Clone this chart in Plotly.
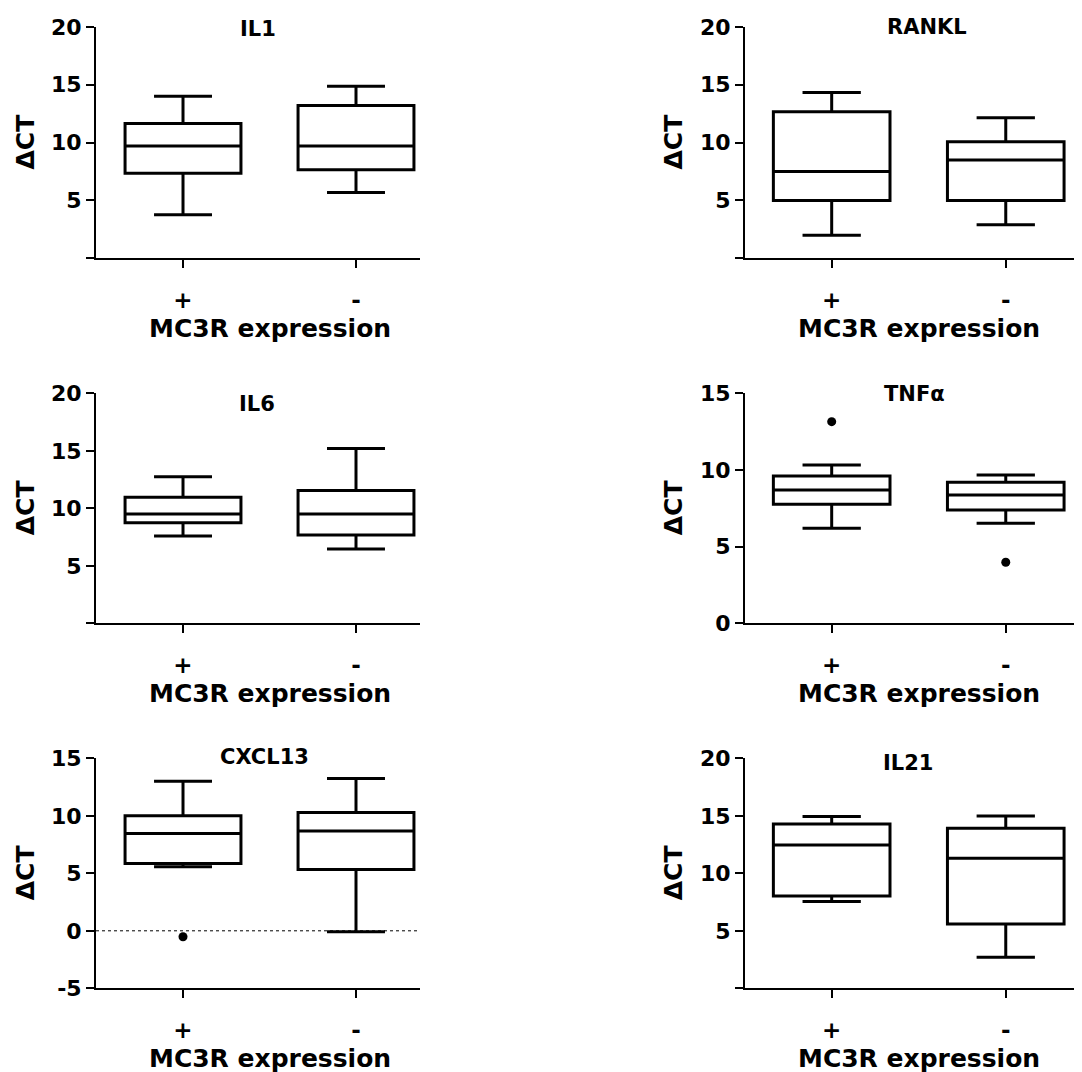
import plotly.graph_objects as go

# ---------------- data ----------------
genes = ["IL1", "RANKL", "IL6", "TNFα", "CXCL13", "IL21"]
groups = ["+", "-"]
group_pos = [0, 1]

whisker_low = [[3.74, 5.67], [1.96, 2.88], [7.59, 6.46], [6.20, 6.52], [5.57, -0.09], [7.54, 2.70]]
q1 = [[7.34, 7.63], [4.98, 4.98], [8.75, 7.68], [7.76, 7.39], [5.86, 5.33], [8.03, 5.59]]
median = [[9.70, 9.70], [7.48, 8.49], [9.51, 9.51], [8.70, 8.37], [8.46, 8.67], [12.46, 11.30]]
q3 = [[11.65, 13.20], [12.66, 10.07], [10.96, 11.54], [9.61, 9.20], [10.00, 10.29], [14.29, 13.91]]
whisker_high = [[14.00, 14.88], [14.33, 12.14], [12.75, 15.19], [10.33, 9.67], [13.01, 13.25], [14.93, 14.99]]

outlier_gene = ["TNFα", "TNFα", "CXCL13"]
outlier_group = ["+", "-", "+"]
outlier_value = [13.15, 3.98, -0.52]

y_min = [0, 0, 0, 0, -5, 0]
y_max = [20, 20, 20, 15, 15, 20]
ytick_vals = [[0, 5, 10, 15, 20], [0, 5, 10, 15, 20], [0, 5, 10, 15, 20],
              [0, 5, 10, 15], [-5, 0, 5, 10, 15], [0, 5, 10, 15, 20]]
ytick_text = [["", "5", "10", "15", "20"], ["", "5", "10", "15", "20"], ["", "5", "10", "15", "20"],
              ["0", "5", "10", "15"], ["-5", "0", "5", "10", "15"], ["", "5", "10", "15", "20"]]
y_title = "ΔCT"
x_title = "MC3R expression"

# ---------------- layout geometry (screen pixels; page has an 8px body margin) ----------------
W, H = 1082, 1072
OFF = 8
col_px = [(96, 420), (745, 1082)]
col_xrange = [[-0.503, 1.37], [-0.498, 1.438]]
row_px = [(27, 258), (393.3, 623.3), (758.3, 988.3)]
ytitle_x = [25, 673]
title_px = [(258, 29), (927, 27.5), (257, 404), (914, 394), (264, 757), (908, 763)]


def px_x(p):
    return (p - OFF) / W


def px_y(p):
    return 1 - (p - OFF) / H


FONT = "DejaVu Sans"
fig = go.Figure()
annotations = []
shapes = []

for i, g in enumerate(genes):
    r, c = divmod(i, 2)
    n = i + 1
    xa = "x" if n == 1 else f"x{n}"
    ya = "y" if n == 1 else f"y{n}"
    xk = "xaxis" if n == 1 else f"xaxis{n}"
    yk = "yaxis" if n == 1 else f"yaxis{n}"

    fig.add_trace(go.Box(
        x=group_pos, q1=q1[i], median=median[i], q3=q3[i],
        lowerfence=whisker_low[i], upperfence=whisker_high[i],
        width=0.67, whiskerwidth=0.5, boxpoints=False,
        line=dict(color="black", width=3), fillcolor="white",
        xaxis=xa, yaxis=ya, showlegend=False, hoverinfo="skip",
    ))

    ox = [group_pos[groups.index(og)] for og, gg in zip(outlier_group, outlier_gene) if gg == g]
    oy = [v for v, gg in zip(outlier_value, outlier_gene) if gg == g]
    if ox:
        fig.add_trace(go.Scatter(x=ox, y=oy, mode="markers",
                                 marker=dict(color="black", size=9),
                                 xaxis=xa, yaxis=ya, showlegend=False, hoverinfo="skip"))

    x0, x1 = col_px[c]
    top, bot = row_px[r]
    fig.layout[xk] = dict(
        domain=[px_x(x0), min(1.0, px_x(x1))], range=col_xrange[c], anchor=ya, automargin=False,
        tickvals=group_pos, ticktext=groups, ticks="outside", ticklen=8, tickwidth=2,
        tickcolor="black", showline=True, linewidth=2, linecolor="black",
        showgrid=False, zeroline=False, ticklabelstandoff=12,
        tickfont=dict(family=FONT, size=23, color="black", weight="bold"),
    )
    fig.layout[yk] = dict(
        domain=[px_y(bot), px_y(top)], range=[y_min[i], y_max[i]], anchor=xa, automargin=False,
        tickvals=ytick_vals[i], ticktext=ytick_text[i], ticks="outside", ticklen=8, tickwidth=2,
        tickcolor="black", showline=True, linewidth=2, linecolor="black",
        showgrid=False, zeroline=False,
        tickfont=dict(family=FONT, size=22, color="black", weight="bold"),
    )

    tx, ty = title_px[i]
    annotations.append(dict(text=g, x=px_x(tx), y=px_y(ty), xref="paper", yref="paper",
                            xanchor="center", yanchor="middle", showarrow=False,
                            font=dict(family=FONT, size=21, color="black", weight="bold")))
    annotations.append(dict(text=x_title, x=0.5, y=px_y(bot + 70), xref=xa, yref="paper",
                            xanchor="center", yanchor="middle", showarrow=False,
                            font=dict(family=FONT, size=25, color="black", weight="bold")))
    annotations.append(dict(text=y_title, x=px_x(ytitle_x[c]), y=px_y((top + bot) / 2),
                            xref="paper", yref="paper", textangle=-90,
                            xanchor="center", yanchor="middle", showarrow=False,
                            font=dict(family=FONT, size=25, color="black", weight="bold")))
    if y_min[i] < 0:
        shapes.append(dict(type="line", xref=f"{xa} domain", yref=ya, x0=0, x1=1, y0=0, y1=0,
                           line=dict(color="black", width=1, dash="dot"), layer="below"))

fig.update_layout(width=W, height=H, margin=dict(l=0, r=0, t=0, b=0, autoexpand=False),
                  paper_bgcolor="white", plot_bgcolor="white",
                  annotations=annotations, shapes=shapes, showlegend=False)
fig.write_html("out.html")
